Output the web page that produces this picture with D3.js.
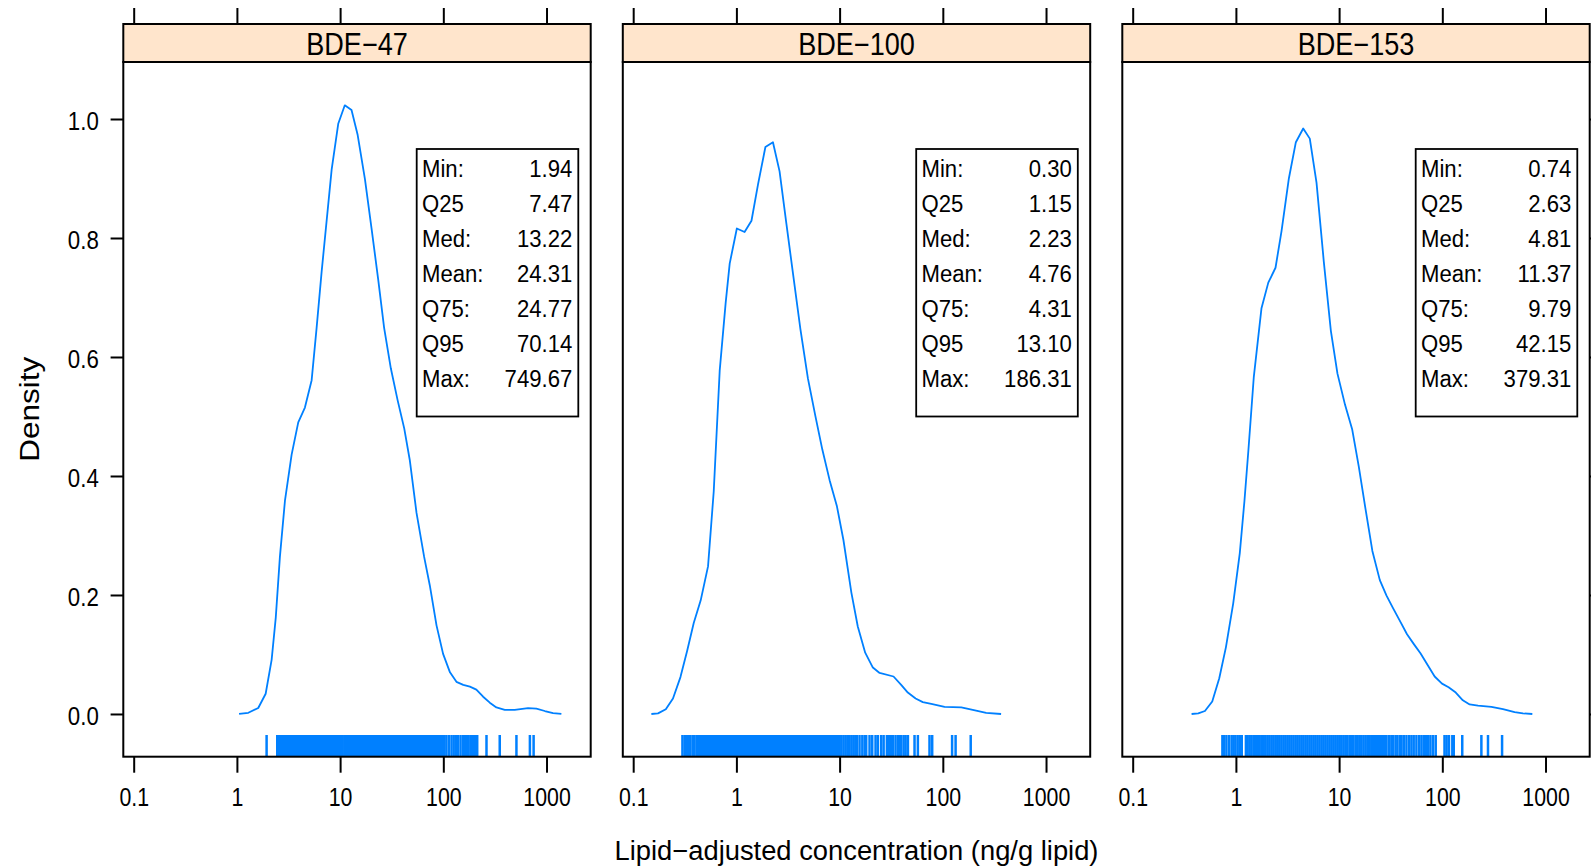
<!DOCTYPE html>
<html lang="en">
<head>
    <meta charset="UTF-8">
    <title>PBDE density plots</title>
    <script src="https://d3js.org/d3.v7.min.js"></script>
    <style>
        body {
            margin: 0;
            background: #fff;
            font-family: "Liberation Sans", Arial, sans-serif;
        }
    </style>
</head>
<body>
    <div id="chart"></div>

    <script>
        // Panel names and summary statistics
        const panelNames = ["BDE\u221247", "BDE\u2212100", "BDE\u2212153"];
        const statLabels = ["Min:", "Q25", "Med:", "Mean:", "Q75:", "Q95", "Max:"];
        const stats47 = [1.94, 7.47, 13.22, 24.31, 24.77, 70.14, 749.67];
        const stats100 = [0.30, 1.15, 2.23, 4.76, 4.31, 13.10, 186.31];
        const stats153 = [0.74, 2.63, 4.81, 11.37, 9.79, 42.15, 379.31];

        // Axis ticks
        const xTicks = [0.1, 1, 10, 100, 1000];
        const xTickLabels = ["0.1", "1", "10", "100", "1000"];
        const yTicks = [0, 0.2, 0.4, 0.6, 0.8, 1.0];

        // Density curves (concentration, density)
        const densX47 = [1.05, 1.29, 1.61, 1.90, 2.17, 2.38, 2.61, 2.92, 3.39, 3.93, 4.56, 5.30, 5.92, 6.62, 8.28,
            9.59, 11.1, 12.9, 14.8, 17.4, 20.1, 23.4, 26.7, 31.0, 36.1, 41.8, 47.4, 55.0, 65.2, 74.0,
            85.9, 99.5, 116, 134, 156, 181, 209, 243, 282, 327, 394, 492, 662, 798, 962, 1156, 1393];
        const densY47 = [0, 0.002, 0.010, 0.034, 0.091, 0.162, 0.264, 0.358, 0.436, 0.490, 0.515, 0.561, 0.649, 0.743, 0.915,
            0.992, 1.023, 1.015, 0.973, 0.899, 0.818, 0.730, 0.649, 0.581, 0.527, 0.480, 0.426, 0.338, 0.264, 0.216,
            0.149, 0.101, 0.070, 0.054, 0.049, 0.046, 0.041, 0.029, 0.019, 0.011, 0.007, 0.007, 0.010, 0.009, 0.005, 0.0015, 0];

        const densX100 = [0.150, 0.174, 0.207, 0.243, 0.287, 0.333, 0.386, 0.451, 0.531, 0.603, 0.689, 0.787, 0.861, 1.01, 1.20,
            1.40, 1.62, 1.91, 2.26, 2.62, 3.05, 3.53, 4.17, 4.93, 5.82, 6.81, 8.00, 9.42, 10.9, 13.0,
            15.0, 17.7, 21.0, 24.4, 33.3, 39.5, 45.8, 54.5, 64.0, 77.3, 104, 151, 195, 263, 367];
        const densY100 = [0, 0.001, 0.008, 0.026, 0.062, 0.106, 0.153, 0.191, 0.248, 0.374, 0.577, 0.691, 0.757, 0.816, 0.810,
            0.829, 0.890, 0.953, 0.961, 0.912, 0.824, 0.741, 0.647, 0.564, 0.501, 0.444, 0.393, 0.349, 0.292, 0.204,
            0.147, 0.103, 0.078, 0.069, 0.063, 0.049, 0.036, 0.026, 0.020, 0.017, 0.012, 0.011, 0.007, 0.002, 0];

        const densX153 = [0.372, 0.432, 0.501, 0.590, 0.690, 0.800, 0.942, 1.09, 1.21, 1.32, 1.49, 1.77, 2.06, 2.42, 2.77,
            3.26, 3.81, 4.49, 5.20, 6.04, 7.11, 8.32, 9.64, 11.4, 13.4, 15.5, 18.0, 21.0, 24.8, 28.8,
            33.3, 38.7, 45.5, 53.2, 61.4, 72.8, 84.3, 99.3, 115, 135, 158, 184, 222, 299, 387, 502, 604, 745];
        const densY153 = [0, 0.001, 0.005, 0.021, 0.060, 0.112, 0.186, 0.270, 0.358, 0.442, 0.566, 0.682, 0.725, 0.750, 0.812,
            0.900, 0.961, 0.984, 0.967, 0.893, 0.760, 0.644, 0.572, 0.520, 0.478, 0.416, 0.345, 0.274, 0.225, 0.199,
            0.178, 0.157, 0.134, 0.117, 0.102, 0.081, 0.063, 0.051, 0.045, 0.036, 0.023, 0.016, 0.014, 0.012, 0.008, 0.003, 0.001, 0];

        // Rug: observed concentrations (estimated from the tick marks)
        const rug47 = [1.94, 2.46, 2.55, 2.68, 2.79, 2.93, 3.05, 3.19, 3.33, 3.50, 3.64, 3.81, 3.99, 4.16, 4.36, 4.55,
            4.77, 4.98, 5.21, 5.44, 5.70, 5.95, 6.23, 6.50, 6.81, 7.12, 7.44, 7.78, 8.14, 8.50, 8.90, 9.30,
            9.73, 10.2, 10.6, 11.1, 11.6, 12.2, 12.7, 13.3, 13.9, 14.5, 15.2, 15.9, 16.6, 17.4, 18.2, 19.0,
            19.9, 20.8, 21.7, 22.7, 23.8, 24.8, 26.0, 27.2, 28.4, 29.7, 31.1, 32.5, 34.0, 35.5, 37.1, 38.8,
            40.6, 42.5, 44.4, 46.4, 48.5, 50.7, 53.0, 55.5, 58.0, 60.6, 63.4, 66.3, 69.3, 72.5, 75.8, 79.2,
            82.8, 86.0, 88.5, 91.2, 94.0, 97.5, 102, 107, 113, 120, 126, 132, 139, 147, 156, 162, 169, 176,
            185, 195, 202, 213, 262, 352, 511, 690, 749.67];
        const rug100 = [0.30, 0.315, 0.325, 0.34, 0.355, 0.375, 0.39, 0.41, 0.425, 0.445, 0.465, 0.485, 0.51, 0.53,
            0.555, 0.58, 0.605, 0.635, 0.66, 0.69, 0.725, 0.755, 0.79, 0.83, 0.865, 0.905, 0.945, 0.99, 1.03,
            1.08, 1.13, 1.18, 1.24, 1.29, 1.35, 1.41, 1.48, 1.54, 1.61, 1.69, 1.76, 1.84, 1.93, 2.02, 2.11,
            2.20, 2.30, 2.41, 2.52, 2.63, 2.75, 2.88, 3.01, 3.15, 3.29, 3.44, 3.60, 3.76, 3.93, 4.11, 4.30,
            4.50, 4.70, 4.92, 5.14, 5.37, 5.62, 5.87, 6.14, 6.42, 6.72, 7.02, 7.34, 7.68, 8.03, 8.39, 8.77,
            9.17, 9.59, 10.0, 10.4, 10.9, 11.4, 11.9, 12.4, 13.0, 13.6, 14.2, 14.7, 15.6, 16.6, 17.5, 18.1,
            19.5, 20.7, 22.3, 23.5, 25.3, 26.7, 28.7, 30.0, 31.6, 32.8, 34.8, 36.7, 38.1, 39.5, 41.7, 43.6,
            45.9, 53.2, 57.3, 74.3, 78.9, 123, 133, 186.31];
        const rug153 = [0.74, 0.77, 0.81, 0.86, 0.91, 0.95, 0.99, 1.04, 1.09, 1.14, 1.25, 1.30, 1.36, 1.42, 1.49,
            1.56, 1.63, 1.70, 1.78, 1.86, 1.94, 2.03, 2.12, 2.22, 2.32, 2.43, 2.54, 2.65, 2.77, 2.90, 3.03,
            3.17, 3.31, 3.46, 3.62, 3.79, 3.96, 4.14, 4.33, 4.52, 4.73, 4.94, 5.17, 5.40, 5.65, 5.90, 6.17,
            6.45, 6.75, 7.05, 7.37, 7.71, 8.06, 8.42, 8.80, 9.20, 9.62, 10.05, 10.5, 11.0, 11.5, 12.0, 12.6,
            13.1, 13.7, 14.4, 15.0, 15.7, 16.4, 17.2, 18.0, 18.8, 19.6, 20.5, 21.4, 22.4, 23.4, 24.5, 25.6,
            26.7, 27.7, 28.8, 30.5, 32.1, 33.3, 35.2, 36.7, 38.7, 40.2, 42.3, 44.9, 47.6, 50.2, 52.8, 56.1,
            59.6, 62.8, 66.1, 69.1, 72.8, 76.7, 81.3, 86.3, 105, 110, 116, 125, 129, 156, 239, 277, 379.31];

        const panels = [
            { name: panelNames[0], stats: stats47, dx: densX47, dy: densY47, rug: rug47 },
            { name: panelNames[1], stats: stats100, dx: densX100, dy: densY100, rug: rug100 },
            { name: panelNames[2], stats: stats153, dx: densX153, dy: densY153, rug: rug153 }
        ];

        // Layout
        const W = 1591, H = 868;
        const panelLeft = 123.3, panelStep = 499.5, panelW = 467.4;
        const stripTop = 24, plotTop = 62, plotBottom = 756.7;
        const plotH = plotBottom - plotTop;
        const blue = "#0080ff";
        const font = "'Liberation Sans', Arial, sans-serif";

        const x = d3.scaleLog().domain([0.07931, 2679]).range([0, panelW]);
        const y = d3.scaleLinear().domain([-0.0718, 1.0958]).range([plotH, 0]);

        const svg = d3.select("#chart")
            .append("svg")
            .attr("width", W)
            .attr("height", H)
            .style("font-family", font);

        svg.append("rect").attr("width", W).attr("height", H).attr("fill", "#fff");

        const line = d3.line()
            .x(d => x(d[0]))
            .y(d => y(d[1]));

        panels.forEach((p, i) => {
            const g = svg.append("g")
                .attr("transform", `translate(${panelLeft + i * panelStep},${plotTop})`);

            // top ticks (no labels)
            const top = g.append("g")
                .attr("transform", `translate(0,${stripTop - plotTop})`)
                .call(d3.axisTop(x).tickValues(xTicks).tickSize(16).tickFormat(""));
            top.select(".domain").remove();
            top.selectAll("line").attr("stroke-width", 2);

            // bottom axis
            const bottom = g.append("g")
                .attr("transform", `translate(0,${plotH})`)
                .call(d3.axisBottom(x).tickValues(xTicks).tickSize(16).tickPadding(14.6)
                    .tickFormat(d => xTickLabels[xTicks.indexOf(d)]));
            bottom.select(".domain").remove();
            bottom.selectAll("line").attr("stroke-width", 2);
            bottom.selectAll("text")
                .attr("font-size", 26)
                .attr("font-family", font)
                .attr("fill", "#000")
                .attr("transform", "scale(0.82,1)");

            // y axis on the left of the first panel, ticks only on the right of the last
            if (i === 0) {
                const left = g.append("g")
                    .call(d3.axisLeft(y).tickValues(yTicks).tickSize(12.7).tickFormat(d3.format(".1f")));
                left.select(".domain").remove();
                left.selectAll("line").attr("stroke-width", 2);
                left.selectAll("text")
                    .attr("x", 0)
                    .attr("dy", "0.38em")
                    .attr("font-size", 26.5)
                    .attr("font-family", font)
                    .attr("fill", "#000")
                    .attr("transform", "translate(-24.5,0) scale(0.84,1)");
            }
            if (i === panels.length - 1) {
                const right = g.append("g")
                    .attr("transform", `translate(${panelW},0)`)
                    .call(d3.axisRight(y).tickValues(yTicks).tickSize(12.7).tickFormat(""));
                right.select(".domain").remove();
                right.selectAll("line").attr("stroke-width", 2);
            }

            // strip
            g.append("rect")
                .attr("x", 0)
                .attr("y", stripTop - plotTop)
                .attr("width", panelW)
                .attr("height", plotTop - stripTop)
                .attr("fill", "#ffe5cc")
                .attr("stroke", "#000")
                .attr("stroke-width", 2);

            g.append("text")
                .attr("transform", `translate(${panelW / 2},${55 - plotTop}) scale(0.86,1)`)
                .attr("text-anchor", "middle")
                .attr("font-size", 31.5)
                .text(p.name);

            // density curve
            g.append("path")
                .datum(p.dx.map((v, k) => [v, p.dy[k]]))
                .attr("fill", "none")
                .attr("stroke", blue)
                .attr("stroke-width", 1.8)
                .attr("stroke-linejoin", "round")
                .attr("d", line);

            // rug
            g.selectAll(".rug")
                .data(p.rug)
                .enter()
                .append("line")
                .attr("class", "rug")
                .attr("x1", d => x(d))
                .attr("x2", d => x(d))
                .attr("y1", y(-0.0353))
                .attr("y2", plotH)
                .attr("stroke", blue)
                .attr("stroke-width", 2.5);

            // panel frame
            g.append("rect")
                .attr("width", panelW)
                .attr("height", plotH)
                .attr("fill", "none")
                .attr("stroke", "#000")
                .attr("stroke-width", 2);

            // summary box
            const box = g.append("g").attr("transform", `translate(293.4,${149 - plotTop})`);
            box.append("rect")
                .attr("width", 161.6)
                .attr("height", 267.5)
                .attr("fill", "#fff")
                .attr("stroke", "#000")
                .attr("stroke-width", 1.8);

            statLabels.forEach((lab, k) => {
                const by = 28.3 + k * 34.9;
                box.append("text")
                    .attr("transform", `translate(5.3,${by}) scale(0.95,1)`)
                    .attr("font-size", 23.3)
                    .text(lab);
                box.append("text")
                    .attr("transform", `translate(155.6,${by}) scale(0.95,1)`)
                    .attr("text-anchor", "end")
                    .attr("font-size", 23.3)
                    .text(d3.format(".2f")(p.stats[k]));
            });
        });

        // axis titles
        svg.append("text")
            .attr("transform", `translate(${panelLeft + panelStep + panelW / 2},860) scale(0.977,1)`)
            .attr("text-anchor", "middle")
            .attr("font-size", 28)
            .text("Lipid\u2212adjusted concentration (ng/g lipid)");

        svg.append("text")
            .attr("transform", `translate(39,${(plotTop + plotBottom) / 2}) rotate(-90) scale(1,0.87)`)
            .attr("text-anchor", "middle")
            .attr("font-size", 31.5)
            .text("Density");
    </script>
</body>
</html>
